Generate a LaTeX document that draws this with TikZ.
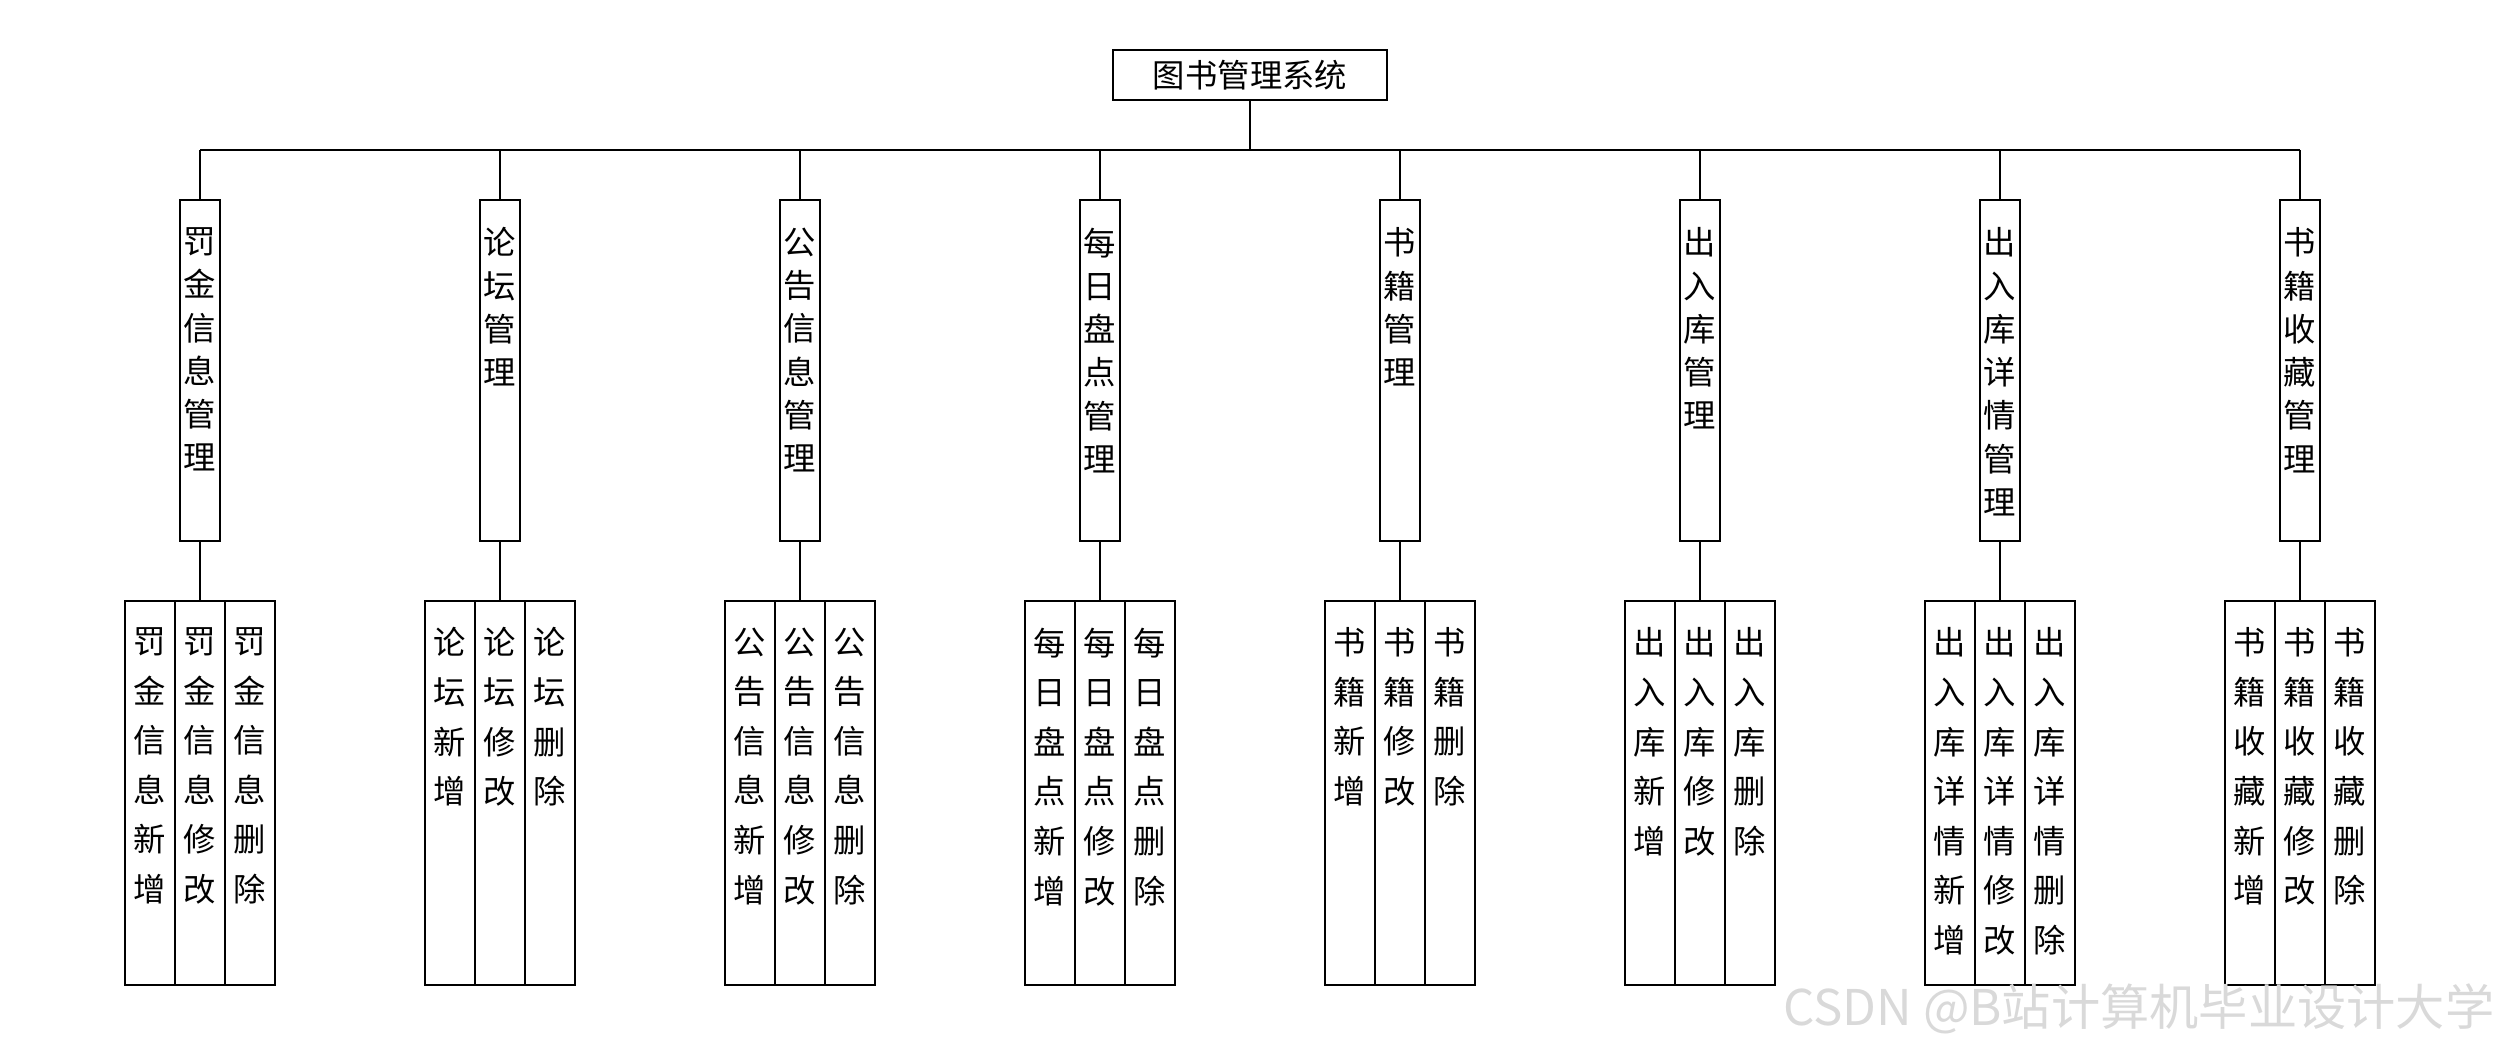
\documentclass[tikz,border=0pt]{standalone}
\usepackage{fontspec}
\setmainfont{Noto Sans CJK SC}
\usetikzlibrary{positioning}
\XeTeXlinebreaklocale "zh"
\XeTeXlinebreakskip=0pt plus 1pt
\tikzset{
    rootbox/.style={rectangle, draw, line width=0.6pt, minimum width=2.73cm, minimum height=0.5cm, inner sep=0pt, font=\fontsize{9.2pt}{11pt}\selectfont},
    midbox/.style={rectangle, draw, line width=0.6pt, minimum width=0.4cm, minimum height=3.41cm, inner sep=0pt, outer sep=0pt, anchor=north},
    leafbox/.style={rectangle, draw, line width=0.6pt, minimum width=0.5cm, minimum height=3.84cm, inner sep=0pt, outer sep=0pt, anchor=north},
    midtxt/.style={anchor=north, inner sep=0pt, yshift=-0.27cm, text width=0.4cm, align=center, font=\fontsize{9.2pt}{12.3pt}\selectfont},
    leaftxt/.style={anchor=north, inner sep=0pt, yshift=-0.26cm, text width=0.45cm, align=center, font=\fontsize{9.2pt}{14.1pt}\selectfont},
    link/.style={line width=0.6pt}
}
\begin{document}
\begin{tikzpicture}[x=0.01cm, y=-0.01cm]
    \useasboundingbox (0,0) rectangle (2500,1050);
    \node (root) [rootbox] at (1250,75) {图书管理系统};
    \coordinate (bus) at (1250,150);
    \draw [link] (root.south) -- (bus);

    \foreach \i/\name/\stem in {1/罚金信息管理/罚金信息, 2/论坛管理/论坛, 3/公告信息管理/公告信息, 4/每日盘点管理/每日盘点, 5/书籍管理/书籍, 6/出入库管理/出入库, 7/出入库详情管理/出入库详情, 8/书籍收藏管理/书籍收藏}{
        \pgfmathsetmacro\x{-100+300*\i}
        \node (m\i) [midbox, label={[midtxt]north:{\name}}] at (\x,200) {};
        \node (b\i) [leafbox, label={[leaftxt]north:{\stem 修改}}] at (\x,601) {};
        \node (a\i) [leafbox, left=0pt of b\i, label={[leaftxt]north:{\stem 新增}}] {};
        \node (c\i) [leafbox, right=0pt of b\i, label={[leaftxt]north:{\stem 删除}}] {};
        \draw [link] (m\i.north) -- (m\i.north |- bus);
        \draw [link] (m\i.south) -- (b\i.north);
    }
    \draw [link] (m1.north |- bus) -- (m8.north |- bus);

    % watermark
    \node (mark) [anchor=south east, inner sep=0pt, text=gray!30, font=\fontsize{14pt}{16pt}\selectfont] at (2495,1035) {CSDN @B站计算机毕业设计大学};
\end{tikzpicture}
\end{document}
